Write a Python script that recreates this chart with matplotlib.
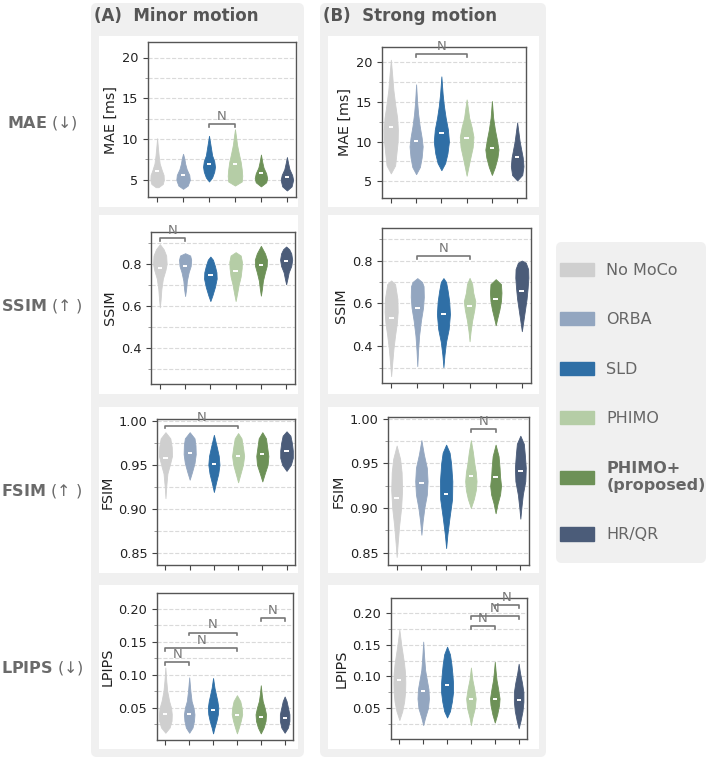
import numpy as np
import matplotlib
matplotlib.use("Agg")
import matplotlib.pyplot as plt
from matplotlib.patches import FancyBboxPatch, Rectangle, Patch
from matplotlib.ticker import MultipleLocator, FormatStrFormatter

methods = ['No MoCo', 'ORBA', 'SLD', 'PHIMO', 'PHIMO+\n(proposed)', 'HR/QR']
colors = ['#cfcfcf', '#93a6c0', '#2f6fa6', '#b5cda6', '#6d9157', '#4b5c79']

# violin outlines: (values, half widths) for each method
mae_minor = [
    ([4.1, 4.5, 5.0, 5.6, 6.2, 7.0, 8.0, 9.0, 10.1], [0.05, 0.22, 0.26, 0.25, 0.18, 0.10, 0.06, 0.03, 0.0]),
    ([3.9, 4.3, 5.0, 5.6, 6.3, 7.0, 7.6, 8.2], [0.0, 0.18, 0.26, 0.24, 0.14, 0.08, 0.05, 0.0]),
    ([4.8, 5.3, 6.0, 6.6, 7.3, 8.0, 9.0, 10.4], [0.0, 0.12, 0.20, 0.23, 0.20, 0.12, 0.07, 0.0]),
    ([4.3, 4.8, 5.5, 6.3, 7.2, 8.2, 9.3, 10.3, 11.2], [0.0, 0.26, 0.28, 0.26, 0.22, 0.15, 0.08, 0.04, 0.0]),
    ([4.2, 4.7, 5.2, 5.8, 6.5, 7.2, 8.1], [0.0, 0.20, 0.24, 0.20, 0.10, 0.05, 0.0]),
    ([3.7, 4.2, 5.0, 5.6, 6.3, 7.0, 7.8], [0.0, 0.18, 0.24, 0.20, 0.10, 0.05, 0.0]),
]
mae_minor_med = [6.1, 5.6, 7.0, 7.0, 5.8, 5.3]
mae_minor_n = [(2, 3, 11.85)]

mae_strong = [
    ([6.0, 7.0, 8.5, 10.0, 11.5, 13.0, 14.5, 16.5, 18.5, 20.3], [0.0, 0.17, 0.22, 0.27, 0.28, 0.25, 0.18, 0.10, 0.05, 0.0]),
    ([5.9, 6.8, 8.0, 9.4, 10.5, 12.0, 13.5, 15.0, 17.2], [0.0, 0.15, 0.22, 0.26, 0.22, 0.14, 0.08, 0.04, 0.0]),
    ([6.4, 7.3, 8.5, 10.0, 11.5, 13.0, 14.5, 16.0, 18.2], [0.0, 0.15, 0.24, 0.30, 0.26, 0.17, 0.10, 0.05, 0.0]),
    ([5.7, 6.8, 8.0, 9.3, 10.6, 11.8, 13.0, 14.2, 15.3], [0.0, 0.07, 0.15, 0.24, 0.27, 0.20, 0.10, 0.05, 0.0]),
    ([5.8, 6.8, 8.0, 9.0, 10.2, 11.5, 13.0, 15.1], [0.0, 0.12, 0.22, 0.26, 0.20, 0.12, 0.05, 0.0]),
    ([5.1, 5.8, 6.9, 8.0, 9.0, 10.0, 11.2, 12.4], [0.0, 0.20, 0.25, 0.22, 0.16, 0.10, 0.05, 0.0]),
]
mae_strong_med = [11.8, 10.1, 11.1, 10.4, 9.2, 8.0]
mae_strong_n = [(1, 3, 21.0)]

ssim_minor = [
    ([0.593, 0.63, 0.68, 0.73, 0.77, 0.80, 0.84, 0.87, 0.894], [0.0, 0.03, 0.06, 0.12, 0.22, 0.27, 0.25, 0.15, 0.0]),
    ([0.647, 0.68, 0.72, 0.76, 0.79, 0.82, 0.84, 0.851], [0.0, 0.04, 0.07, 0.14, 0.22, 0.24, 0.20, 0.0]),
    ([0.623, 0.65, 0.69, 0.73, 0.76, 0.79, 0.82, 0.835], [0.0, 0.08, 0.18, 0.25, 0.24, 0.18, 0.10, 0.0]),
    ([0.623, 0.66, 0.70, 0.74, 0.78, 0.81, 0.84, 0.856], [0.0, 0.06, 0.12, 0.20, 0.24, 0.25, 0.20, 0.0]),
    ([0.649, 0.68, 0.72, 0.76, 0.79, 0.82, 0.85, 0.886], [0.0, 0.04, 0.08, 0.16, 0.23, 0.24, 0.16, 0.0]),
    ([0.703, 0.73, 0.76, 0.79, 0.82, 0.85, 0.87, 0.883], [0.0, 0.05, 0.10, 0.20, 0.24, 0.20, 0.12, 0.0]),
]
ssim_minor_med = [0.78, 0.788, 0.745, 0.765, 0.795, 0.815]
ssim_minor_n = [(0, 1, 0.923)]

ssim_strong = [
    ([0.26, 0.32, 0.39, 0.45, 0.51, 0.56, 0.62, 0.69, 0.707], [0.0, 0.04, 0.09, 0.15, 0.22, 0.25, 0.24, 0.15, 0.0]),
    ([0.307, 0.38, 0.45, 0.52, 0.58, 0.63, 0.68, 0.70, 0.718], [0.0, 0.03, 0.07, 0.14, 0.22, 0.25, 0.24, 0.18, 0.0]),
    ([0.302, 0.36, 0.42, 0.48, 0.55, 0.61, 0.66, 0.70, 0.718], [0.0, 0.04, 0.10, 0.20, 0.25, 0.22, 0.16, 0.10, 0.0]),
    ([0.423, 0.47, 0.52, 0.57, 0.61, 0.65, 0.69, 0.719], [0.0, 0.04, 0.10, 0.18, 0.22, 0.14, 0.10, 0.0]),
    ([0.498, 0.53, 0.57, 0.61, 0.65, 0.69, 0.713], [0.0, 0.06, 0.14, 0.20, 0.22, 0.20, 0.0]),
    ([0.47, 0.52, 0.57, 0.62, 0.67, 0.72, 0.76, 0.79, 0.80], [0.0, 0.06, 0.12, 0.18, 0.22, 0.25, 0.24, 0.15, 0.0]),
]
ssim_strong_med = [0.533, 0.578, 0.548, 0.59, 0.622, 0.658]
ssim_strong_n = [(1, 3, 0.822)]

fsim_minor = [
    ([0.912, 0.925, 0.94, 0.95, 0.96, 0.97, 0.98, 0.987], [0.0, 0.03, 0.08, 0.18, 0.27, 0.26, 0.20, 0.0]),
    ([0.933, 0.942, 0.952, 0.962, 0.972, 0.98, 0.987], [0.0, 0.10, 0.20, 0.25, 0.24, 0.20, 0.0]),
    ([0.919, 0.93, 0.94, 0.95, 0.96, 0.97, 0.984], [0.0, 0.09, 0.18, 0.23, 0.20, 0.12, 0.0]),
    ([0.93, 0.94, 0.95, 0.96, 0.97, 0.98, 0.986], [0.0, 0.10, 0.20, 0.25, 0.20, 0.14, 0.0]),
    ([0.931, 0.94, 0.95, 0.96, 0.97, 0.98, 0.987], [0.0, 0.10, 0.22, 0.25, 0.20, 0.15, 0.0]),
    ([0.943, 0.95, 0.958, 0.966, 0.975, 0.983, 0.988], [0.0, 0.18, 0.26, 0.26, 0.22, 0.16, 0.0]),
]
fsim_minor_med = [0.958, 0.963, 0.951, 0.96, 0.962, 0.966]
fsim_minor_n = [(0, 3, 0.9946)]

fsim_strong = [
    ([0.845, 0.86, 0.88, 0.90, 0.92, 0.94, 0.955, 0.97], [0.0, 0.04, 0.10, 0.18, 0.22, 0.20, 0.14, 0.0]),
    ([0.87, 0.885, 0.90, 0.915, 0.93, 0.945, 0.96, 0.976], [0.0, 0.05, 0.12, 0.22, 0.25, 0.22, 0.10, 0.0]),
    ([0.855, 0.87, 0.89, 0.91, 0.93, 0.95, 0.962, 0.971], [0.0, 0.05, 0.14, 0.24, 0.25, 0.20, 0.14, 0.0]),
    ([0.90, 0.91, 0.92, 0.93, 0.94, 0.95, 0.963, 0.976], [0.0, 0.12, 0.20, 0.23, 0.20, 0.14, 0.08, 0.0]),
    ([0.894, 0.905, 0.915, 0.925, 0.935, 0.945, 0.958, 0.971], [0.0, 0.08, 0.18, 0.22, 0.18, 0.16, 0.12, 0.0]),
    ([0.888, 0.90, 0.915, 0.93, 0.945, 0.96, 0.972, 0.981], [0.0, 0.04, 0.10, 0.20, 0.22, 0.18, 0.14, 0.0]),
]
fsim_strong_med = [0.911, 0.928, 0.916, 0.936, 0.935, 0.941]
fsim_strong_n = [(3, 4, 0.988)]

lpips_minor = [
    ([0.012, 0.02, 0.03, 0.04, 0.05, 0.06, 0.075, 0.09, 0.111], [0.0, 0.18, 0.26, 0.27, 0.24, 0.16, 0.08, 0.04, 0.0]),
    ([0.012, 0.02, 0.03, 0.04, 0.05, 0.06, 0.075, 0.096], [0.0, 0.14, 0.20, 0.22, 0.18, 0.10, 0.05, 0.0]),
    ([0.011, 0.02, 0.03, 0.04, 0.05, 0.06, 0.07, 0.08, 0.095], [0.0, 0.06, 0.14, 0.20, 0.22, 0.18, 0.12, 0.06, 0.0]),
    ([0.011, 0.02, 0.03, 0.04, 0.05, 0.06, 0.069], [0.0, 0.08, 0.16, 0.22, 0.20, 0.14, 0.0]),
    ([0.011, 0.02, 0.03, 0.04, 0.05, 0.06, 0.07, 0.084], [0.0, 0.12, 0.20, 0.22, 0.16, 0.08, 0.04, 0.0]),
    ([0.012, 0.02, 0.03, 0.04, 0.05, 0.06, 0.067], [0.0, 0.14, 0.20, 0.20, 0.14, 0.08, 0.0]),
]
lpips_minor_med = [0.041, 0.041, 0.047, 0.039, 0.036, 0.035]
lpips_minor_n = [(0, 1, 0.119), (0, 3, 0.140), (1, 3, 0.164), (4, 5, 0.186)]

lpips_strong = [
    ([0.031, 0.045, 0.06, 0.075, 0.09, 0.105, 0.12, 0.135, 0.15, 0.174], [0.0, 0.12, 0.20, 0.24, 0.25, 0.24, 0.20, 0.14, 0.08, 0.0]),
    ([0.023, 0.035, 0.05, 0.065, 0.08, 0.095, 0.11, 0.13, 0.155], [0.0, 0.08, 0.20, 0.24, 0.22, 0.15, 0.08, 0.04, 0.0]),
    ([0.035, 0.045, 0.06, 0.075, 0.09, 0.105, 0.12, 0.135, 0.147], [0.0, 0.12, 0.20, 0.25, 0.25, 0.22, 0.18, 0.12, 0.0]),
    ([0.023, 0.035, 0.05, 0.065, 0.08, 0.095, 0.114], [0.0, 0.06, 0.16, 0.20, 0.14, 0.06, 0.0]),
    ([0.027, 0.04, 0.055, 0.065, 0.08, 0.095, 0.11, 0.123], [0.0, 0.10, 0.18, 0.20, 0.14, 0.07, 0.03, 0.0]),
    ([0.018, 0.03, 0.045, 0.06, 0.075, 0.09, 0.105, 0.12], [0.0, 0.08, 0.16, 0.20, 0.20, 0.14, 0.06, 0.0]),
]
lpips_strong_med = [0.094, 0.077, 0.087, 0.064, 0.064, 0.062]
lpips_strong_n = [(3, 4, 0.179), (3, 5, 0.196), (4, 5, 0.213)]

row_labels = [r'$\mathbf{MAE}$ (↓)', r'$\mathbf{SSIM}$ (↑ )', r'$\mathbf{FSIM}$ (↑ )', r'$\mathbf{LPIPS}$ (↓)']
ylabels = ['MAE [ms]', 'SSIM', 'FSIM', 'LPIPS']

W, H = 709, 760
fig = plt.figure(figsize=(W / 100, H / 100), dpi=100)


def fbox(x0, y0, x1, y1):
    # pixel box (top-left origin) -> figure fraction
    return [x0 / W, 1 - y1 / H, (x1 - x0) / W, (y1 - y0) / H]


def bg(x0, y0, x1, y1, color, rounded=True, z=-2):
    l, b, w, h = fbox(x0, y0, x1, y1)
    if rounded:
        p = FancyBboxPatch((l, b), w, h, boxstyle="round,pad=0,rounding_size=0.008",
                           transform=fig.transFigure, fc=color, ec='none', zorder=z)
    else:
        p = Rectangle((l, b), w, h, transform=fig.transFigure, fc=color, ec='none', zorder=z)
    fig.patches.append(p)


# grey column panels, white cells, legend box
bg(91, 3, 304, 757, '#f0f0f0')
bg(320, 3, 546, 757, '#f0f0f0')
bg(556, 242, 706, 563, '#f0f0f0')
rows_px = [(36, 207), (215, 394), (407, 573), (585, 749)]
for y0, y1 in rows_px:
    bg(99, y0, 298, y1, 'white', rounded=False, z=-1)
    bg(328, y0, 539, y1, 'white', rounded=False, z=-1)

fig.text(94 / W, 1 - 16 / H, '(A)  Minor motion', fontsize=12, fontweight='bold',
         color='#555555', ha='left', va='center')
fig.text(323 / W, 1 - 16 / H, '(B)  Strong motion', fontsize=12, fontweight='bold',
         color='#555555', ha='left', va='center')

for lab, (y0, y1) in zip(row_labels, rows_px):
    fig.text(42 / W, 1 - ((y0 + y1) / 2 + 1) / H, lab, fontsize=11.5, color='#6a6a6a',
             ha='center', va='center')

axes_px = [
    [(148, 42, 296, 197), (382, 47, 526, 198)],
    [(151, 232, 295, 384), (382, 228, 531, 383)],
    [(157, 419, 295, 565), (388, 417, 529, 565)],
    [(157, 593, 293, 740), (391, 598, 527, 739)],
]
panels = [
    [(mae_minor, mae_minor_med, mae_minor_n), (mae_strong, mae_strong_med, mae_strong_n)],
    [(ssim_minor, ssim_minor_med, ssim_minor_n), (ssim_strong, ssim_strong_med, ssim_strong_n)],
    [(fsim_minor, fsim_minor_med, fsim_minor_n), (fsim_strong, fsim_strong_med, fsim_strong_n)],
    [(lpips_minor, lpips_minor_med, lpips_minor_n), (lpips_strong, lpips_strong_med, lpips_strong_n)],
]
ylims = [(2.9, 21.9), (0.228, 0.952), (0.836, 1.002), (0.001, 0.224)]
majors = [5, 0.2, 0.05, 0.05]
minors = [2.5, 0.1, 0.025, 0.025]
fmts = ['%d', '%.1f', '%.2f', '%.2f']

for r in range(4):
    for c in range(2):
        ax = fig.add_axes(fbox(*axes_px[r][c]))
        profiles, meds, brackets = panels[r][c]
        for i, (ys, hw) in enumerate(profiles):
            ys = np.array(ys)
            hw = np.array(hw)
            ax.fill_betweenx(ys, i - hw, i + hw, color=colors[i], lw=0.6, edgecolor=colors[i], zorder=2)
            ax.plot([i - 0.09, i + 0.09], [meds[i], meds[i]], color='white', lw=1.4,
                    solid_capstyle='butt', zorder=3)
        lo, hi = ylims[r]
        rng = hi - lo
        for i, j, y in brackets:
            ax.plot([i, i, j, j], [y - 0.02 * rng, y, y, y - 0.02 * rng], color='#777777',
                    lw=1.2, clip_on=False, zorder=4)
            ax.text((i + j) / 2, y + 0.008 * rng, 'N', ha='center', va='bottom',
                    fontsize=9.5, color='#777777', clip_on=False)
        ax.set_xlim(-0.35, 5.35)
        ax.set_ylim(lo, hi)
        ax.set_xticks(range(6))
        ax.set_xticklabels([])
        ax.yaxis.set_major_locator(MultipleLocator(majors[r]))
        ax.yaxis.set_minor_locator(MultipleLocator(minors[r]))
        ax.yaxis.set_major_formatter(FormatStrFormatter(fmts[r]))
        ax.yaxis.grid(True, which='both', ls='--', color='#dadada', lw=0.8)
        ax.set_axisbelow(True)
        ax.tick_params(axis='both', which='major', length=3.5, width=0.8, color='#444444',
                       labelsize=9.3, labelcolor='#222222')
        ax.tick_params(axis='y', which='minor', length=2, width=0.6, color='#888888')
        ax.set_ylabel(ylabels[r], fontsize=10.3, color='#222222', labelpad=3)
        for s in ax.spines.values():
            s.set_color('#555555')
            s.set_linewidth(1.0)

handles = [Patch(facecolor=col, edgecolor=col) for col in colors]
leg = fig.legend(handles, methods, loc='center',
                 bbox_to_anchor=(633 / W, 1 - 402.5 / H), fontsize=11.5,
                 frameon=False, handlelength=2.1, handleheight=0.9, handletextpad=0.8,
                 labelspacing=2.15, borderpad=0.3)
for t in leg.get_texts():
    t.set_color('#666666')
leg.get_texts()[4].set_fontweight('bold')

fig.savefig('out.png', dpi=100)
